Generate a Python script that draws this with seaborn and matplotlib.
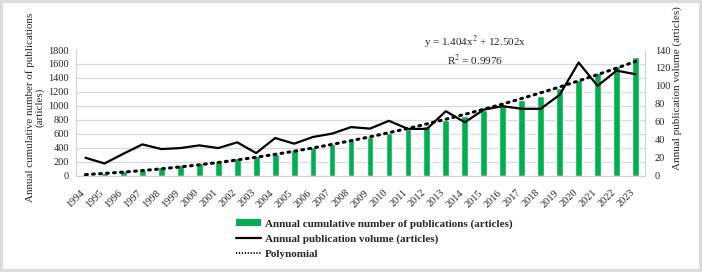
import numpy as np
import pandas as pd
import matplotlib
matplotlib.use("Agg")
import matplotlib.pyplot as plt
import matplotlib.transforms as mtransforms
import seaborn as sns
from matplotlib.patches import Patch
from matplotlib.lines import Line2D

# Data
years = [str(y) for y in range(1994, 2024)]
cumulative = [20, 35, 58, 82, 115, 145, 175, 210, 245, 275, 315, 360, 410, 450, 508,
              556, 610, 672, 705, 792, 850, 936, 994, 1080, 1138, 1248, 1368, 1464, 1570, 1695]
annual = [19.8, 13.4, 24.3, 34.7, 29.5, 30.6, 33.6, 30.6, 37, 25, 41.8, 35.5, 43, 46.7, 54,
          52.3, 61, 52, 52, 71.7, 59.4, 73.5, 77.3, 74.4, 74.4, 90, 126, 100, 117, 113]
eq_text = "y = 1.404x$^2$ + 12.502x\nR$^2$ = 0.9976"

df = pd.DataFrame({"year": years, "cumulative": cumulative, "annual": annual})
df["pos"] = np.arange(len(df))

# polynomial trendline (through origin) fitted to the cumulative counts
xk = df["pos"].values + 1.0
A = np.column_stack([xk ** 2, xk])
coef, *_ = np.linalg.lstsq(A, df["cumulative"].values, rcond=None)
df["trend"] = A @ coef

sns.set_style("white")
plt.rcParams["font.family"] = ["Liberation Serif", "DejaVu Serif"]
plt.rcParams["mathtext.fontset"] = "stix"

green = "#00B050"
fig = plt.figure(figsize=(7.02, 2.72), dpi=100)
fig.patch.set_edgecolor("#dcdcdc")
fig.patch.set_linewidth(3)
ax = fig.add_axes([76 / 702, 1 - 175.5 / 272, (645 - 76) / 702, (175.5 - 50) / 272])

sns.barplot(data=df, x="year", y="cumulative", color=green, width=0.36,
            saturation=1, ax=ax, zorder=2)
sns.lineplot(data=df, x="pos", y="trend", ax=ax, color="black", lw=2.2,
             linestyle=(0, (0.6, 1.7)), dash_capstyle="round", zorder=3)
ax.set_ylim(0, 1800)
ax.set_yticks(range(0, 1801, 200))
ax.set_xlim(-0.5, len(df) - 0.5)
ax.set_axisbelow(True)
ax.yaxis.grid(True, color="#d9d9d9", lw=0.9)
ax.get_ygridlines()[-1].set_visible(False)
for s in ["top", "right"]:
    ax.spines[s].set_visible(False)
ax.spines["left"].set_color("#c9d3e3")
ax.spines["bottom"].set_color("#d0d0d0")
ax.tick_params(axis="y", labelsize=7.5, length=0, pad=5)
ax.tick_params(axis="x", labelsize=7.5, length=0, pad=9)
shift = mtransforms.ScaledTranslation(-4 / 72, 0, fig.dpi_scale_trans)
for lab in ax.get_xticklabels():
    lab.set_rotation(45)
    lab.set_ha("right")
    lab.set_rotation_mode("anchor")
    lab.set_transform(lab.get_transform() + shift)
ax.set_xlabel("")
ax.set_ylabel("")

ax2 = ax.twinx()
sns.lineplot(data=df, x="pos", y="annual", ax=ax2, color="black", lw=1.6)
ax2.set_ylim(0, 140)
ax2.set_yticks(range(0, 141, 20))
ax2.tick_params(axis="y", labelsize=7.5, length=0, pad=7)
for s in ["top", "left", "bottom"]:
    ax2.spines[s].set_visible(False)
ax2.spines["right"].set_color("#c9d3e3")
ax2.set_ylabel("")

fig.text(35 / 702, 1 - 107 / 272, "Annual cumulative number of publications\n(articles)",
         rotation=90, ha="center", va="center", fontsize=7.9, linespacing=1.05)
fig.text(677 / 702, 1 - 88 / 272, "Annual publication volume (articles)",
         rotation=90, ha="center", va="center", fontsize=8)
fig.text(475 / 702, 1 - 51 / 272, eq_text, ha="center", va="center", fontsize=8,
         linespacing=1.1)

handles = [Patch(facecolor=green, edgecolor="none"),
           Line2D([], [], color="black", lw=1.6),
           Line2D([], [], color="black", lw=1.4, linestyle=(0, (0.6, 0.9)))]
labels = ["Annual cumulative number of publications (articles)",
          "Annual publication volume (articles)",
          "Polynomial"]
fig.legend(handles, labels, loc="upper left", bbox_to_anchor=(236 / 702, 1 - 219 / 272),
           frameon=False, prop={"weight": "bold", "size": 8}, handlelength=2.25,
           handleheight=0.55, handletextpad=0.36, labelspacing=0.52, borderpad=0,
           borderaxespad=0)

fig.savefig("out.png", dpi=100)
